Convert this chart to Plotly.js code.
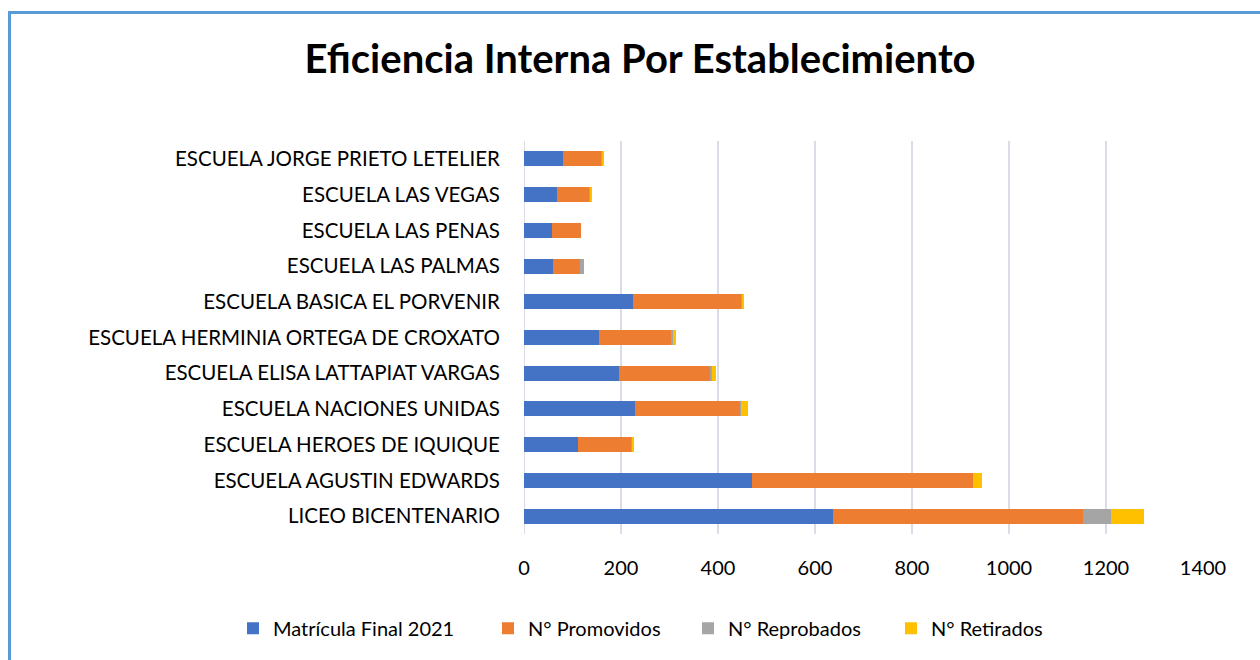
<!DOCTYPE html>
<html>
<head>
<meta charset="utf-8">
<script src="https://cdn.plot.ly/plotly-3.0.1.min.js"></script>
<style>
  html, body { margin: 0; padding: 0; background: #fff; overflow: hidden; }
  #frame { position: absolute; left: 8px; top: 11px; width: 1300px; height: 700px;
           border-left: 3px solid #5b9bd5; border-top: 3px solid #5b9bd5; box-sizing: border-box; }
  #chart { position: absolute; left: 0; top: 0; width: 1260px; height: 660px; }
</style>
</head>
<body>
<div id="frame"></div>
<div id="chart"></div>
<script>
const categories = [
  "LICEO BICENTENARIO",
  "ESCUELA AGUSTIN EDWARDS",
  "ESCUELA HEROES DE IQUIQUE",
  "ESCUELA NACIONES UNIDAS",
  "ESCUELA ELISA LATTAPIAT VARGAS",
  "ESCUELA HERMINIA ORTEGA DE CROXATO",
  "ESCUELA BASICA EL PORVENIR",
  "ESCUELA LAS PALMAS",
  "ESCUELA LAS PENAS",
  "ESCUELA LAS VEGAS",
  "ESCUELA JORGE PRIETO LETELIER"
];
const matricula  = [637, 470, 111, 229, 196, 155, 225, 60, 58, 68, 80];
const promovidos = [516, 456, 109, 217, 188, 148, 223, 56, 60, 66, 78];
const reprobados = [58, 0, 2, 2, 4, 5, 2, 8, 0, 2, 2];
const retirados  = [68, 19, 4, 14, 8, 6, 4, 0, 0, 4, 4];
const seriesNames = ["Matrícula Final 2021", "N° Promovidos", "N° Reprobados", "N° Retirados"];
const xTicks = [0, 200, 400, 600, 800, 1000, 1200, 1400];

const colors = ["#4472c4", "#ed7d31", "#a5a5a5", "#ffc000"];
const seriesData = [matricula, promovidos, reprobados, retirados];
const font = "Lato, 'Open Sans', sans-serif";

// plot area in px: left 524, width 679
const PL = 524, PW = 679;
const legendLeftPx = [233, 488, 688, 891];
const legendIds = ["legend", "legend2", "legend3", "legend4"];

const traces = seriesData.map((vals, i) => ({
  type: "bar",
  orientation: "h",
  y: categories,
  x: vals,
  name: seriesNames[i],
  legend: legendIds[i],
  marker: { color: colors[i], line: { width: 0 } },
  hoverinfo: "x+y+name"
}));

const layout = {
  width: 1260, height: 660,
  paper_bgcolor: "rgba(0,0,0,0)",
  plot_bgcolor: "rgba(0,0,0,0)",
  barmode: "stack",
  bargap: 0.58,
  margin: { l: PL, r: 1260 - PL - PW, t: 141, b: 123, pad: 0 },
  title: {
    text: "<b>Eficiencia Interna Por Establecimiento</b>",
    x: 0.508, xanchor: "center",
    y: 0.91, yanchor: "middle",
    font: { family: font, size: 40, color: "#000" }
  },
  xaxis: {
    range: [0, 1400],
    tickvals: xTicks,
    ticktext: xTicks.map(String),
    showgrid: true, gridcolor: "#d9dde6", gridwidth: 2,
    zeroline: false, showline: false,
    ticks: "outside", ticklen: 16, tickcolor: "rgba(0,0,0,0)",
    tickfont: { family: font, size: 20, color: "#000" },
    automargin: false
  },
  yaxis: {
    type: "category",
    categoryorder: "array", categoryarray: categories,
    showgrid: false, zeroline: false,
    showline: false,
    ticks: "outside", ticklen: 19, tickcolor: "rgba(0,0,0,0)",
    tickfont: { family: font, size: 20.5, color: "#000" },
    automargin: false
  },
  shapes: [{
    type: "line", xref: "x", yref: "paper", x0: 0, x1: 0, y0: 0, y1: 1,
    line: { color: "#d9dde6", width: 2 }, layer: "below"
  }],
  showlegend: true
};

legendIds.forEach((id, i) => {
  layout[id] = {
    orientation: "h",
    x: (legendLeftPx[i] - PL) / PW, xanchor: "left",
    y: -0.24, yanchor: "middle",
    font: { family: font, size: 20, color: "#000" },
    itemwidth: 30,
    bgcolor: "rgba(0,0,0,0)"
  };
});

Plotly.newPlot("chart", traces, layout, { displayModeBar: false, staticPlot: true });
</script>
</body>
</html>
